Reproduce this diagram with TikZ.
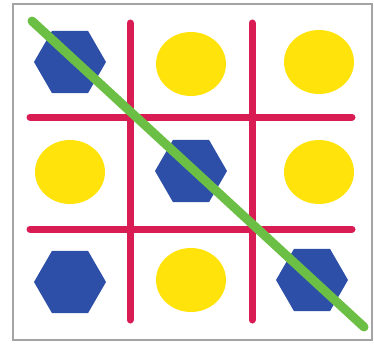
\documentclass[tikz,border=0pt]{standalone}
\usepackage{xcolor}
\usepackage{tikz}
\usetikzlibrary{shapes.geometric}
\definecolor{gridred}{HTML}{DA1C55}
\definecolor{hexblue}{HTML}{2D4FA8}
\definecolor{dotyellow}{HTML}{FFE30A}
\definecolor{winline}{HTML}{6CBF45}
\definecolor{framegray}{HTML}{A4A4A4}

\begin{document}
\begin{tikzpicture}[x=1pt,y=-1pt,hexa/.style={regular polygon,regular polygon sides=6,fill=hexblue,inner sep=0pt,minimum size=72pt},dot/.style={ellipse,fill=dotyellow,inner sep=0pt,minimum width=70pt,minimum height=64pt},bar/.style={line width=7pt,gridred,line cap=round},win/.style={line width=9pt,winline,line cap=round}]
\useasboundingbox (0,0) rectangle (374,345);
\draw[framegray,line width=1.5pt] (13,4) rectangle (372,340);
% grid
\coordinate (v1t) at (130,23); \coordinate (v1b) at (130,320);
\coordinate (v2t) at (252,23); \coordinate (v2b) at (252,320);
\coordinate (h1l) at (30,117); \coordinate (h1r) at (352,117);
\coordinate (h2l) at (30,229); \coordinate (h2r) at (352,229);
\draw[bar] (v1t)--(v1b); \draw[bar] (v2t)--(v2b);
\draw[bar] (h1l)--(h1r); \draw[bar] (h2l)--(h2r);
% pieces
\node[hexa] (a1) at (70,62) {};
\node[dot] (b1) at (191,64) {};
\node[dot] (c1) at (319,62) {};
\node[dot] (a2) at (70,172) {};
\node[hexa] (b2) at (191,171) {};
\node[dot] (c2) at (319,172) {};
\node[hexa] (a3) at (70,282) {};
\node[dot] (b3) at (191,280) {};
\node[hexa] (c3) at (312,280) {};
% winning line
\coordinate (ws) at (32,21); \coordinate (we) at (364,327);
\draw[win] (ws)--(we);
\end{tikzpicture}
\end{document}
